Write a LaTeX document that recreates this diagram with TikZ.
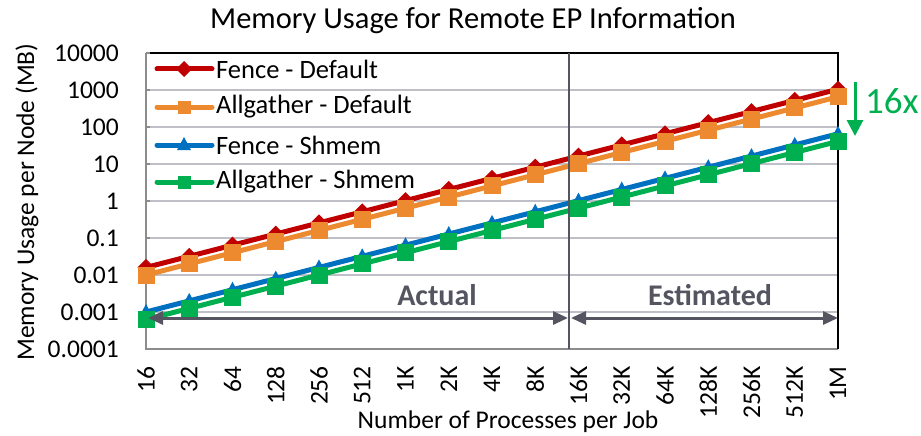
\documentclass[tikz,border=0pt]{standalone}
\usepackage{fontspec}
\setmainfont{Carlito}
\usetikzlibrary{arrows.meta}
\definecolor{cRed}{HTML}{C00000}
\definecolor{cOrange}{HTML}{ED8A2F}
\definecolor{cBlue}{HTML}{0070C0}
\definecolor{cGreen}{HTML}{00B050}
\definecolor{cGrid}{HTML}{BFBFC8}
\definecolor{cDark}{HTML}{555562}
\definecolor{cAxis}{HTML}{8C8C8C}
% x position of sample i, y position of a value with log10 offset c
\newcommand\px[1]{146+43.25*#1}
\newcommand\py[2]{349-37*(#1+0.30103*#2)}
\begin{document}
\begin{tikzpicture}[x=1pt,y=-1pt,font=\fontsize{25.5}{30}\selectfont,
  gridline/.style={cGrid,line width=1.5pt},
  serieline/.style={line width=5pt,line cap=round},
  spanarrow/.style={cDark,line width=3pt,{Triangle[length=15pt,width=13pt]}-{Triangle[length=15pt,width=13pt]}},
  phase/.style={cDark,font=\fontsize{30}{36}\selectfont\bfseries},
  ticklab/.style={anchor=east,inner sep=0pt},
  xlab/.style={anchor=east,rotate=90,inner sep=0pt},
  legtext/.style={anchor=west,inner sep=0pt,font=\fontsize{26.5}{30}\selectfont}]
\useasboundingbox (0,0) rectangle (921,436);

% title
\node (title) at (473,21) {\fontsize{30.5}{36}\selectfont Memory Usage for Remote EP Information};

% gridlines
\foreach \k in {1,...,7} \draw[gridline] (146,{53+37*\k}) -- (838,{53+37*\k});

% frame
\draw[cAxis,line width=2pt] (146,53) -- (146,349) -- (838,349);
\draw[black,line width=1.5pt] (146,53) -- (838,53) -- (838,349);
\foreach \k in {0,...,8} \draw[cAxis,line width=1.5pt] (146,{53+37*\k}) -- (150,{53+37*\k});

% y tick labels
\foreach \lab [count=\k from 0] in {10000,1000,100,10,1,0.1,0.01,0.001,0.0001}
  \node[ticklab] (yt\k) at (119,{53+37*\k}) {\lab};

% x tick labels
\foreach \lab [count=\i from 0] in {16,32,64,128,256,512,1K,2K,4K,8K,16K,32K,64K,128K,256K,512K,1M}
  \node[xlab] (xt\i) at ({\px{\i}},366) {\lab};

% axis titles
\node[rotate=90] (ytitle) at (27,202) {Memory Usage per Node (MB)};
\node (xtitle) at (508,422) {Number of Processes per Job};

% Fence - Default
\draw[cRed,serieline] ({\px{0}},{\py{2.20412}{0}}) -- ({\px{16}},{\py{2.20412}{16}});
\foreach \i in {0,...,16}
  \fill[cRed] ({\px{\i}},{\py{2.20412}{\i}}) +(0,-8.5) -- +(8.5,0) -- +(0,8.5) -- +(-8.5,0) -- cycle;
% Allgather - Default
\draw[cOrange,serieline] ({\px{0}},{\py{2}{0}}) -- ({\px{16}},{\py{2}{16}});
\foreach \i in {0,...,16}
  \fill[cOrange] ({\px{\i}},{\py{2}{\i}}) +(-8.5,-8.5) rectangle +(8.5,8.5);
% Fence - Shmem
\draw[cBlue,serieline] ({\px{0}},{\py{1}{0}}) -- ({\px{16}},{\py{1}{16}});
\foreach \i in {0,...,16}
  \fill[cBlue] ({\px{\i}},{\py{1}{\i}}) +(0,-8) -- +(7,5) -- +(-7,5) -- cycle;
% Allgather - Shmem
\draw[cGreen,serieline] ({\px{0}},{\py{0.79588}{0}}) -- ({\px{16}},{\py{0.79588}{16}});
\foreach \i in {0,...,16}
  \fill[cGreen] ({\px{\i}},{\py{0.79588}{\i}}) +(-8.5,-8.5) rectangle +(8.5,8.5);

% divider between measured and projected ranges
\draw[cDark,line width=2.5pt] (569,53) -- (569,349);

% legend
\draw[cRed,serieline] (157,69) -- (212,69);
\fill[cRed] (184,69) +(0,-8) -- +(8,0) -- +(0,8) -- +(-8,0) -- cycle;
\node[legtext] (lg1) at (216,69) {Fence - Default};
\draw[cOrange,serieline] (157,107) -- (212,107);
\fill[cOrange] (184,107) +(-6.5,-6.5) rectangle +(6.5,6.5);
\node[legtext] (lg2) at (216,107) {Allgather - Default};
\draw[cBlue,serieline] (157,145) -- (212,145);
\fill[cBlue] (184,145) +(0,-8) -- +(7,5) -- +(-7,5) -- cycle;
\node[legtext] (lg3) at (216,145) {Fence - Shmem};
\draw[cGreen,serieline] (157,182) -- (212,182);
\fill[cGreen] (184,182) +(-6.5,-6.5) rectangle +(6.5,6.5);
\node[legtext] (lg4) at (216,182) {Allgather - Shmem};

% ranges
\coordinate (a0) at (148,318);
\coordinate (a1) at (568,318);
\coordinate (e0) at (571,318);
\coordinate (e1) at (838,318);
\draw[spanarrow] (a0) -- (a1);
\draw[spanarrow] (e0) -- (e1);
\node[phase] (actual) at (437,295) {Actual};
\node[phase] (estim) at (710,295) {Estimated};

% ratio marker
\coordinate (r0) at (855,82);
\coordinate (r1) at (855,136);
\draw[cGreen,line width=3pt,-{Triangle[length=16pt,width=16pt]}] (r0) -- (r1);
\node[cGreen,anchor=west,inner sep=0pt,font=\fontsize{37}{42}\selectfont] (ratio) at (865,101) {16x};
\end{tikzpicture}
\end{document}
